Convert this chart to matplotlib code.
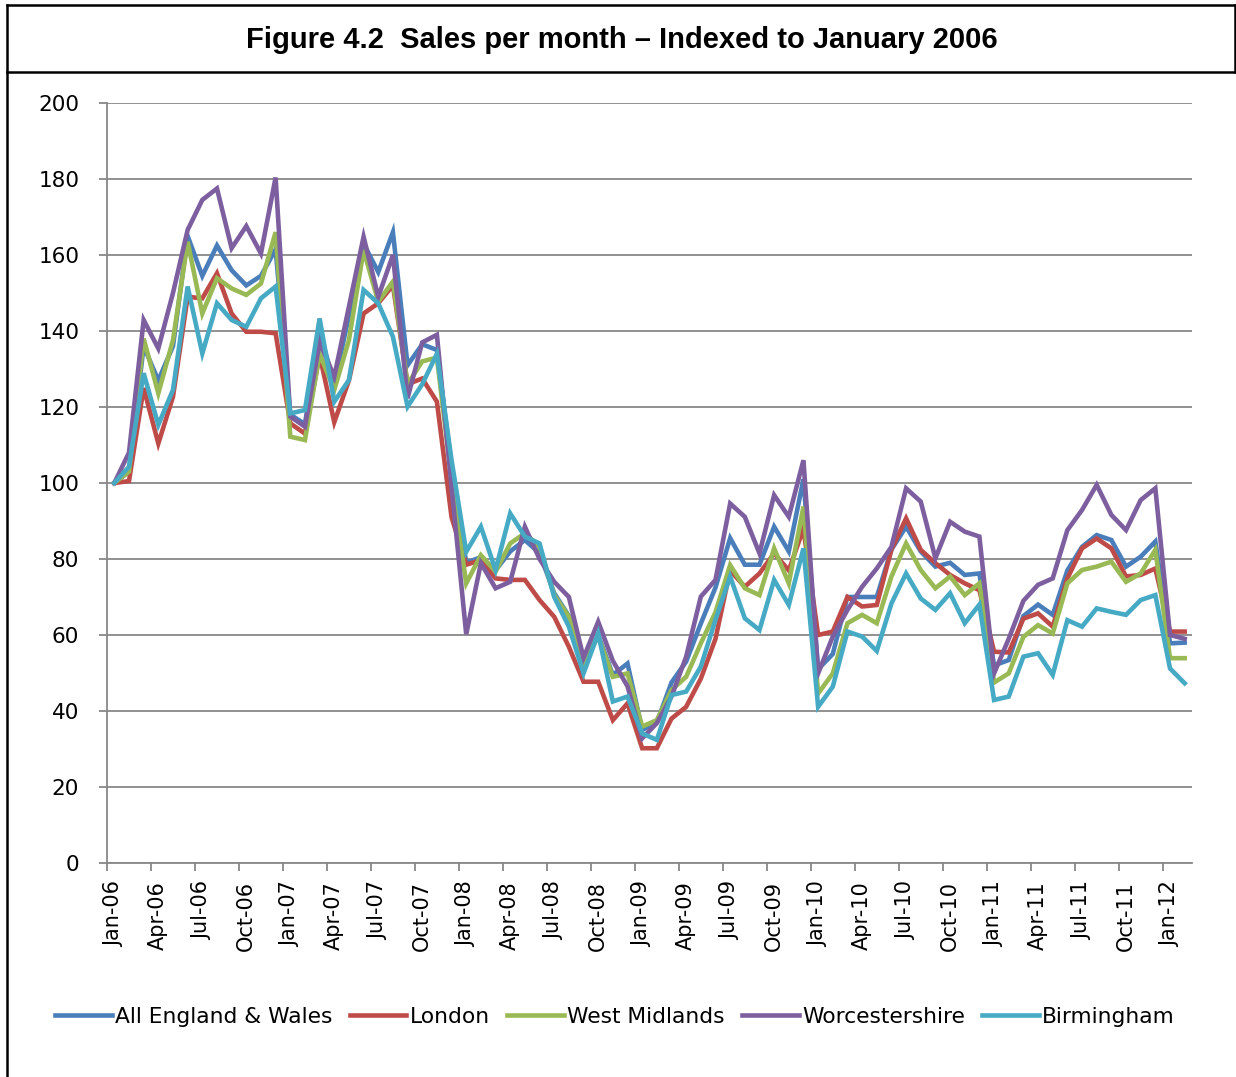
import matplotlib
matplotlib.use("Agg")
import matplotlib.pyplot as plt
from matplotlib.lines import Line2D
import numpy as np

months = ["Jan", "Feb", "Mar", "Apr", "May", "Jun", "Jul", "Aug", "Sep", "Oct", "Nov", "Dec"]
categories = [f"{months[m]}-{y:02d}" for y in range(6, 13) for m in range(12)][:74]

all_england_wales = [
    100, 103, 136, 127, 136, 165, 154.5, 162.5, 156, 152, 154.5, 161.5,
    118, 115.5, 140, 126, 144, 163, 155.5, 166, 131, 136.5, 135, 104,
    79, 80.5, 77, 82, 85, 81.5, 71, 65, 52.5, 60, 49.5, 52.5,
    35, 37, 47.5, 53, 63, 72.5, 85.5, 78.5, 78.5, 88.5, 82, 101,
    51, 55, 70, 70, 70, 82.5, 88.5, 82, 78, 79, 75.8, 76.2,
    52, 53.4, 65, 68, 65.3, 77, 83.2, 86.3, 85, 78, 80.6, 84.6,
    57.8, 58]
london = [
    100, 100.5, 125, 110.4, 122.7, 149, 148.6, 155.2, 144.6, 139.8, 139.8, 139.4,
    115.7, 113, 133.7, 116, 127, 144.6, 147.3, 152, 126, 127.5, 121.4, 91,
    78.5, 79.7, 74.9, 74.5, 74.5, 69.2, 64.8, 56.9, 47.7, 47.7, 37.6, 42,
    30.2, 30.2, 38, 41.1, 48.5, 59, 77, 72.7, 76.2, 81.5, 77, 88,
    60, 60.9, 70, 67.5, 67.9, 82.5, 90.7, 82.4, 78.9, 75.8, 73.6, 71.8,
    55.6, 55.4, 64.3, 65.7, 62.2, 74.9, 82.8, 85.4, 82.8, 75.4, 75.8, 77.5,
    60.9, 60.9]
west_midlands = [
    100, 103, 138, 123.6, 137.6, 163.5, 144.6, 153.9, 151.2, 149.5, 152.5, 166,
    112.2, 111.3, 134, 124.5, 137.6, 161.3, 147.7, 153, 126, 132, 133, 101,
    73.6, 81, 76.7, 84.1, 86.8, 83.2, 70.5, 64.8, 52.5, 59.6, 49, 49.9,
    35.9, 37.6, 45.5, 49, 57.8, 66, 78.4, 72.3, 70.5, 82.8, 73.6, 93.8,
    44.6, 49.9, 63.1, 65.3, 63.1, 75.4, 84.1, 77.1, 72.3, 75.4, 70.5, 73.6,
    47.5, 49.9, 59.5, 62.6, 60.4, 73.6, 77.1, 78, 79.3, 74, 76.2, 82.4,
    53.9, 53.9]
worcestershire = [
    100, 108, 142.9, 135.4, 150, 166.6, 174.5, 177.5, 161.8, 167.6, 160.4, 180.4,
    117.5, 114.8, 137, 128, 146.4, 164.8, 149, 160, 122.3, 137, 139, 99,
    60.2, 78.9, 72.3, 74, 88.5, 80, 74, 70, 54, 63.5, 53.2, 46.5,
    32.8, 36.8, 43.8, 54.3, 70.1, 74.5, 94.6, 91.1, 81.5, 96.8, 91.1, 106,
    49.9, 59.6, 66.6, 72.7, 77.5, 83.2, 98.6, 95.1, 80.2, 89.8, 87.2, 85.9,
    49.9, 59, 69, 73.2, 74.9, 87.6, 92.9, 99.5, 91.6, 87.6, 95.5, 98.6,
    60, 59]
birmingham = [
    100, 104.3, 128.9, 115.3, 124.5, 151.7, 134.1, 147.3, 142.9, 141.1, 148.6, 151.7,
    118.3, 119.2, 143.3, 121.4, 127.1, 150.8, 147.3, 138.5, 120.1, 126, 134, 106,
    81.9, 88.5, 77.1, 92, 85.9, 84.1, 70, 62.2, 49.9, 60.4, 42.5, 43.8,
    34.1, 32.4, 44.2, 45.1, 51.7, 64, 75.4, 64.4, 61.3, 74.5, 67.9, 82.8,
    41.1, 46.4, 60.9, 59.6, 55.8, 68.3, 76.2, 69.6, 66.6, 71, 63.1, 68,
    42.9, 43.8, 54.3, 55.2, 49.5, 63.9, 62.2, 67, 66.1, 65.3, 69.2, 70.5,
    51.2, 47.3]

series_names = ["All England & Wales", "London", "West Midlands", "Worcestershire", "Birmingham"]
series_values = [all_england_wales, london, west_midlands, worcestershire, birmingham]
series_colors = ["#4A7EBB", "#BE4B48", "#98B954", "#7D5FA0", "#46AAC5"]

y_ticks = list(range(0, 201, 20))
x_label_step = 3

W, H = 1236, 1077
fig = plt.figure(figsize=(W / 100, H / 100), dpi=100)
ax = fig.add_axes([107 / W, 1 - 863 / H, (1192 - 107) / W, (863 - 103) / H])

x = np.arange(len(categories))
lines = []
for name, vals, col in zip(series_names, series_values, series_colors):
    ln, = ax.plot(x, vals, color=col, lw=3.3, solid_joinstyle="miter", label=name, zorder=3)
    lines.append(ln)

grid_col = "#888888"
ax.set_xlim(-0.5, len(categories) - 0.5)
ax.set_ylim(0, 200)
ax.set_yticks(y_ticks)
ax.set_yticklabels([str(v) for v in y_ticks])
ax.yaxis.grid(True, color=grid_col, lw=1.3)
ax.set_axisbelow(True)

ax.set_xticks(x[::x_label_step])
ax.set_xticklabels(categories[::x_label_step], rotation=90)
ax.set_xticks(np.arange(-0.5, len(categories), x_label_step), minor=True)
ax.tick_params(axis="x", which="major", length=0, pad=13, labelsize=15, colors="black")
ax.tick_params(axis="x", which="minor", length=6, width=1.3, color=grid_col)
ax.tick_params(axis="y", which="major", length=6, width=1.3, color=grid_col, pad=14, labelsize=15.5)

for s in ["top", "right"]:
    ax.spines[s].set_visible(False)
for s in ["left", "bottom"]:
    ax.spines[s].set_color(grid_col)
    ax.spines[s].set_linewidth(1.3)

fig.legend(handles=lines, labels=series_names, loc="center",
           bbox_to_anchor=(615 / W, 1 - 1017 / H), ncol=5, frameon=False,
           fontsize=15.7, handlelength=2.6, handletextpad=0.15, columnspacing=0.8,
           borderaxespad=0)

fig.text(622 / W, 1 - 40 / H, "Figure 4.2  Sales per month \u2013 Indexed to January 2006",
         ha="center", va="center", fontsize=21, fontweight="bold", family="Liberation Sans")

def fl(x0, y0, x1, y1, lw=1.8):
    fig.add_artist(Line2D([x0 / W, x1 / W], [1 - y0 / H, 1 - y1 / H], color="black", lw=lw))

fl(7, 5, 1235, 5)
fl(7, 5, 7, 1077)
fl(1235, 5, 1235, 72)
fl(7, 72, 1236, 72)

fig.savefig("out.png", dpi=100)
